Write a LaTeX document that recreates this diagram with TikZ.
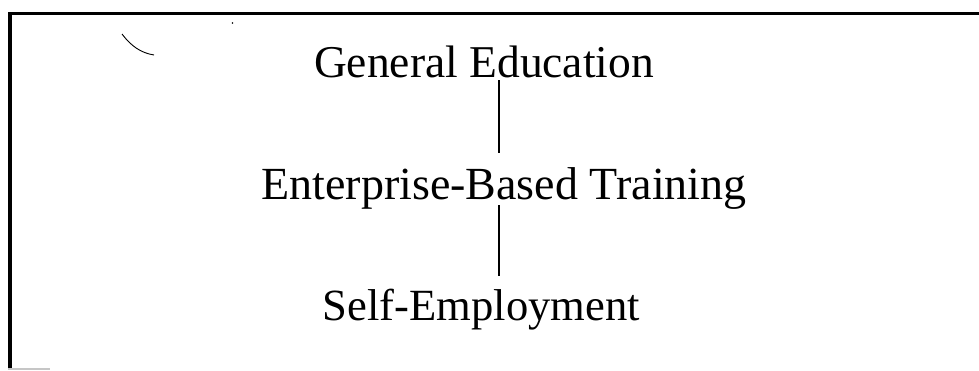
\documentclass[tikz,border=0pt]{standalone}
\usepackage{fontspec}
\setmainfont{Liberation Serif}
\tikzset{
  lbl/.style={inner sep=0pt, anchor=base, font=\fontsize{45.5}{50}\selectfont},
  conn/.style={line width=1.1pt, black},
  frameline/.style={line width=3.5pt, black},
}
\begin{document}
\begin{tikzpicture}[x=1pt,y=-1pt]
  \useasboundingbox (0,0) rectangle (979,370);
  % frame (top and left edges, faint bottom-left stub)
  \draw[frameline] (979,13.5) -- (9.8,13.5) -- (9.8,370);
  \draw[gray!45, line width=1.5pt] (8,369.2) -- (50,369.2);
  % small scan marks
  \draw[line width=0.9pt] (122,34) .. controls (131,46) and (141,53) .. (154,55);
  \fill (232.5,23) circle (0.9);
  % texts
  \coordinate (axis) at (499,0);
  \node[lbl] (t1) at (484,77) {General Education};
  \node[lbl, font=\fontsize{46}{50}\selectfont] (t2) at (504,199.5) {Enterprise-Based Training};
  \node[lbl, font=\fontsize{44.6}{50}\selectfont] (t3) at (481.5,320) {Self-Employment};
  % connectors
  \draw[conn] ([yshift=-3pt]t1.base -| axis) -- ([yshift=46.5pt]t2.base -| axis);
  \draw[conn] ([yshift=-5.5pt]t2.base -| axis) -- ([yshift=44pt]t3.base -| axis);
\end{tikzpicture}
\end{document}
